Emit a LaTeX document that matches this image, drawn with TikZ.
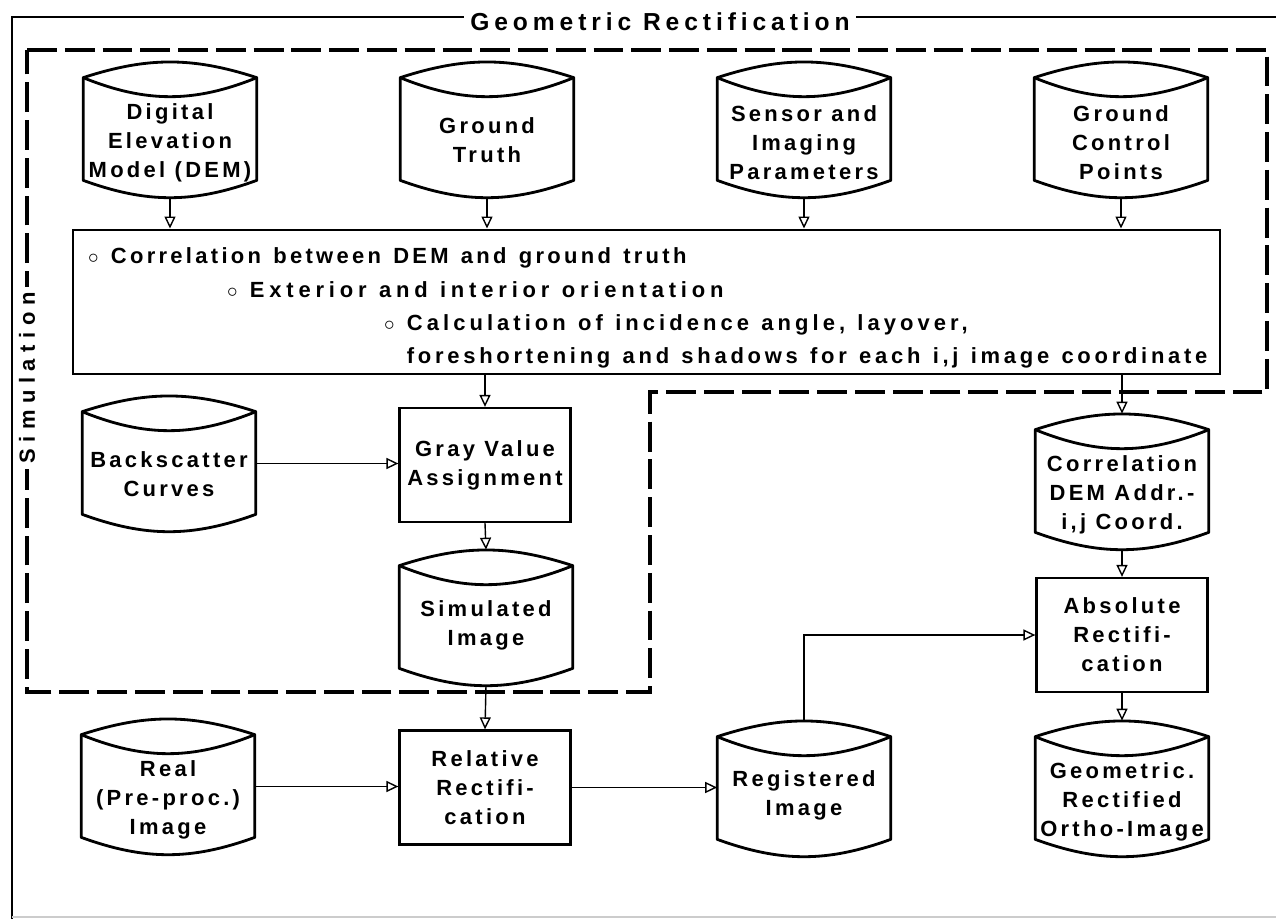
\documentclass[tikz,border=0pt]{standalone}
\usepackage{fontspec}
\setmainfont{Liberation Sans}[LetterSpace=15]
\usetikzlibrary{arrows.meta,calc}

\tikzset{
  lettering/.style={font=\bfseries\fontsize{12.5}{16.5}\selectfont},
  drum/.style={minimum width=3.46cm, minimum height=2.7cm, inner sep=0pt},
  drumtext/.style={lettering, align=center, inner sep=0pt},
  drumline/.style={line width=1.6pt, line join=round},
  procbox/.style={draw, line width=1.3pt, lettering, align=center,
    minimum width=3.42cm, minimum height=2.28cm},
  flow/.style={line width=0.8pt, -{Triangle[open, length=0.24cm, width=0.22cm]}},
  simline/.style={line width=2.2pt, dash pattern=on 17pt off 4.5pt},
  frameline/.style={line width=1.1pt},
}

\begin{document}
\begin{tikzpicture}[x=0.02cm, y=-0.02cm]
\useasboundingbox (0,0) rectangle (1276,919);

			% Outer frame and its title
			\draw[frameline] (1276,17) -- (12,17) -- (12,919);
			\draw[gray!40, line width=0.8pt] (12,917) -- (1276,917);
			\node[lettering, fill=white, inner xsep=0.12cm] (title) at (660,22)
				{\fontsize{14}{16}\selectfont\addfontfeature{LetterSpace=20}Geometric Rectification};

			% Dashed simulation part
			\draw[simline] (27,50) -- (1267,50) -- (1267,392) -- (650,392) -- (650,692) -- (27,692) -- cycle;
			\node[lettering, fill=white, rotate=90, inner xsep=0.1cm] (simlabel) at (27,378)
				{\addfontfeature{LetterSpace=30}Simulation};

			% Data stores drawn as drums
			\foreach \drum/\x/\y in {
					dem/170/129.5, truth/487/129.5, sensor/804/129.5, gcp/1121/129.5,
					back/169/463.5, sim/486/617.5, corr/1122/481.5,
					real/168/786.5, reg/804/788.5, ortho/1122/788.5
				} {
					\node[drum] (\drum) at (\x,\y) {};
					\draw[drumline] ($(\drum.north west)+(0,16)$) coordinate (a)
						to[bend left=18] ($(\drum.north east)+(0,16)$) coordinate (b)
						-- ($(\drum.south east)+(0,-17)$)
						to[bend left=20] ($(\drum.south west)+(0,-17)$) -- cycle;
					\draw[drumline] (a) to[bend right=22] (b);
				}
			\node[drumtext] (dem-txt) at ($(dem)+(0,13)$) {Digital\\Elevation\\Model (DEM)};
			\node[drumtext] (truth-txt) at ($(truth)+(0,11)$) {Ground\\Truth};
			\node[drumtext] (sensor-txt) at ($(sensor)+(0,13)$) {Sensor and\\Imaging\\Parameters};
			\node[drumtext] (gcp-txt) at ($(gcp)+(0,13)$) {Ground\\Control\\Points};
			\node[drumtext] (back-txt) at ($(back)+(0,11)$) {Backscatter\\Curves};
			\node[drumtext] (sim-txt) at ($(sim)+(0,8)$) {Simulated\\Image};
			\node[drumtext] (corr-txt) at ($(corr)+(0,13)$) {Correlation\\DEM Addr.-\\i,j Coord.};
			\node[drumtext] (real-txt) at ($(real)+(0,13)$) {Real\\(Pre-proc.)\\Image};
			\node[drumtext] (reg-txt) at ($(reg)+(0,7)$) {Registered\\Image};
			\node[drumtext] (ortho-txt) at ($(ortho)+(0,13)$) {Geometric.\\Rectified\\Ortho-Image};

			% Processing steps
			\node[draw, line width=1.3pt, align=left, inner xsep=0.3cm,
				text width=22.34cm, minimum height=2.8cm, font=\bfseries\fontsize{12.5}{19}\selectfont] (tasks) at (646.5,302)
				{\spaceskip=7pt\rule{0pt}{16pt}$\circ$ Correlation between DEM and ground truth\\
				\hspace*{2.78cm}{\addfontfeature{LetterSpace=22}\spaceskip=7pt$\circ$ Exterior and interior orientation}\\
				\hspace*{5.92cm}{\addfontfeature{LetterSpace=18.5}\spaceskip=7pt$\circ$ Calculation of incidence angle, layover,}\\
				\mbox{\hspace*{5.92cm}{\addfontfeature{LetterSpace=17}\spaceskip=7pt\phantom{$\circ$ }foreshortening and shadows for each i,j image coordinate}}};
			\node[procbox] (gray) at (485,465) {Gray Value\\Assignment};
			\node[procbox] (rel) at (485,787.5) {Relative\\Rectifi-\\cation};
			\node[procbox] (abs) at (1122,635) {Absolute\\Rectifi-\\cation};

			% Connectors
			\foreach \src in {dem,truth,sensor,gcp} {
					\draw[flow] (\src.south) -- (\src.south |- tasks.north);
				}
			\draw[flow] (gray.north |- tasks.south) -- (gray.north);
			\draw[flow] (back.east) -- (back.east -| gray.west);
			\draw[flow] (gray.south) -- (sim.north);
			\draw[flow] (corr.north |- tasks.south) -- (corr.north);
			\draw[flow] (corr.south) -- (abs.north);
			\draw[flow] (abs.south) -- (ortho.north);
			\draw[flow] (sim.south) -- (rel.north);
			\draw[flow] (real.east) -- (real.east -| rel.west);
			\draw[flow] (rel.east) -- (rel.east -| reg.west);
			\draw[flow] (reg.north) |- (abs.west);

\end{tikzpicture}
\end{document}
